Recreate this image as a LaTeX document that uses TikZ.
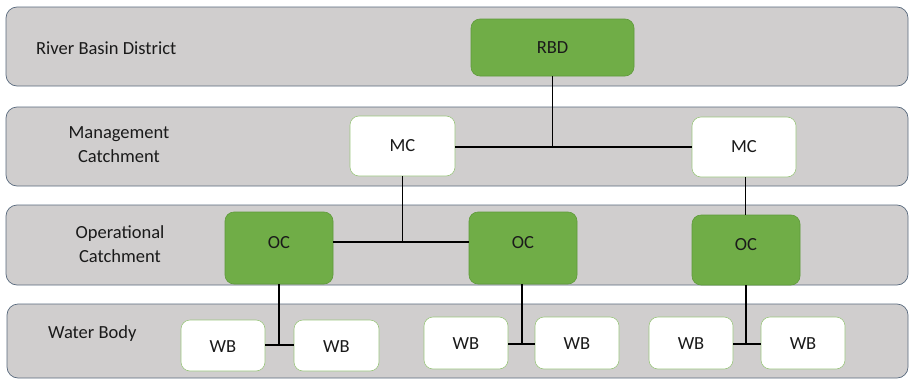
\documentclass[tikz,border=0pt]{standalone}
\usepackage{fontspec}
\setmainfont{Carlito}
\definecolor{bandfill}{HTML}{D0CECE}
\definecolor{bandline}{HTML}{596A7E}
\definecolor{ogreen}{HTML}{70AD47}
\definecolor{dgreen}{HTML}{5E9A3A}
\definecolor{txt}{HTML}{1A1A1A}
\begin{document}
\begin{tikzpicture}[x=1pt,y=-1pt,
  band/.style={draw=bandline,fill=bandfill,line width=0.7pt,rounded corners=11pt},
  gbox/.style={draw=dgreen,fill=ogreen,line width=0.6pt,rounded corners=9pt},
  wbox/.style={draw=ogreen!70!white,fill=white,line width=0.6pt,rounded corners=9pt},
  lbl/.style={text=txt,font=\fontsize{18.5}{24}\selectfont,align=center,inner sep=0pt},
  conn/.style={draw=black,line width=1.4pt}]
\useasboundingbox (0,0) rectangle (909,380);
% bands
\path[band] (6,7) rectangle (908,86);
\path[band] (6,107) rectangle (908,186);
\path[band] (6,205) rectangle (908,285);
\path[band] (7,304) rectangle (908,378);
% labels
\node[lbl,anchor=west] (l1) at (36,48) {River Basin District};
\node[lbl] (l2) at (119,145) {Management\\Catchment};
\node[lbl] (l3) at (120,244) {Operational\\Catchment};
\node[lbl,anchor=west] (l4) at (48,334) {Water Body};
% RBD
\path[gbox] (471,19) rectangle (634,76);
\node[lbl] (rbd) at (552.5,48) {RBD};
\coordinate (rbdb) at (552.5,76);
% MC
\path[wbox] (350,116) rectangle (455,176); \node[lbl] (mc1) at (402.5,146) {MC};
\path[wbox] (692,117) rectangle (796,177); \node[lbl] (mc2) at (744,147) {MC};
\coordinate (mc1r) at (455,147); \coordinate (mc1b) at (402.5,176);
\coordinate (mc2l) at (692,147); \coordinate (mc2b) at (745.5,177);
% OC
\path[gbox] (225,212) rectangle (333,284); \node[lbl] (oc1) at (279,243) {OC};
\path[gbox] (469,212) rectangle (577,284); \node[lbl] (oc2) at (523,243) {OC};
\path[gbox] (692,215) rectangle (800,285); \node[lbl] (oc3) at (746,245) {OC};
\coordinate (oc1r) at (333,242); \coordinate (oc2l) at (469,242);
\coordinate (oc1b) at (279,284); \coordinate (oc2b) at (522,284); \coordinate (oc3b) at (746,285);
\coordinate (oc3t) at (745.5,215);
% WB
\path[wbox] (181,320) rectangle (265,371); \node[lbl] (wb1) at (223,347) {WB};
\path[wbox] (294,320) rectangle (379,371); \node[lbl] (wb2) at (336.5,347) {WB};
\path[wbox] (424,317) rectangle (508,369); \node[lbl] (wb3) at (466,344) {WB};
\path[wbox] (535,317) rectangle (619,369); \node[lbl] (wb4) at (577,344) {WB};
\path[wbox] (649,317) rectangle (733,369); \node[lbl] (wb5) at (691,344) {WB};
\path[wbox] (761,317) rectangle (845,369); \node[lbl] (wb6) at (803,344) {WB};
\coordinate (wb1r) at (265,345); \coordinate (wb2l) at (294,345);
\coordinate (wb3r) at (508,344); \coordinate (wb4l) at (535,344);
\coordinate (wb5r) at (733,344); \coordinate (wb6l) at (761,344);
% connectors
\draw[conn] (rbdb) -- (rbdb |- mc1r);
\draw[conn] (mc1r) -- (mc2l);
\draw[conn] (mc1b) -- (mc1b |- oc1r);
\draw[conn] (oc1r) -- (oc2l);
\draw[conn] (mc2b) -- (oc3t);
\draw[conn] (oc1b) -- (oc1b |- wb1r);
\draw[conn] (wb1r) -- (wb2l);
\draw[conn] (oc2b) -- (oc2b |- wb3r);
\draw[conn] (wb3r) -- (wb4l);
\draw[conn] (oc3b) -- (oc3b |- wb5r);
\draw[conn] (wb5r) -- (wb6l);
\end{tikzpicture}
\end{document}
